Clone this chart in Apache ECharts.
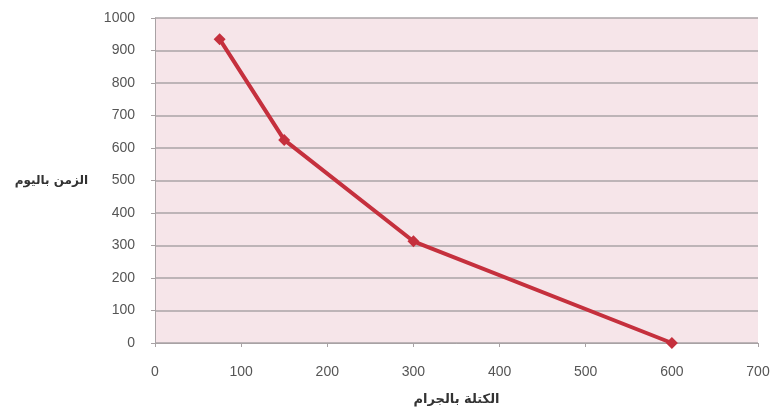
<!DOCTYPE html>
<html>
<head>
<meta charset="utf-8">
<script src="https://cdn.jsdelivr.net/npm/echarts@6/dist/echarts.min.js"></script>
<style>
  html, body { margin: 0; padding: 0; background: #ffffff; }
  #chart { width: 779px; height: 416px; }
</style>
</head>
<body>
<div id="chart"></div>
<script>
// Mass in grams (x) against time in days (y)
const massGrams = [75, 150, 300, 600];
const timeDays = [935, 625, 313, 0];
const xAxisTitle = 'الكتلة بالجرام';
const yAxisTitle = 'الزمن باليوم';

const points = massGrams.map((m, i) => [m, timeDays[i]]);

const chart = echarts.init(document.getElementById('chart'));
chart.setOption({
  animation: false,
  grid: {
    left: 155, right: 21, top: 18, bottom: 73,
    show: true,
    backgroundColor: '#f6e5e9',
    borderWidth: 0
  },
  xAxis: {
    type: 'value',
    min: 0, max: 700, interval: 100,
    name: xAxisTitle,
    nameLocation: 'middle',
    nameGap: 50,
    nameTextStyle: { fontFamily: 'DejaVu Sans', fontSize: 13, fontWeight: 'bold', color: '#333' },
    axisLine: { show: true, lineStyle: { color: '#a8a2a4', width: 1 } },
    axisTick: { show: true, length: 4, lineStyle: { color: '#a8a2a4' } },
    axisLabel: { color: '#555', fontFamily: 'Liberation Sans', fontSize: 14, margin: 22 },
    splitLine: { show: false }
  },
  yAxis: {
    type: 'value',
    min: 0, max: 1000, interval: 100,
    name: yAxisTitle,
    nameLocation: 'middle',
    nameRotate: 0,
    nameGap: 67,
    nameTextStyle: { fontFamily: 'DejaVu Sans', fontSize: 12, fontWeight: 'bold', color: '#333', padding: [12, 0, 0, 0] },
    axisLine: { show: true, lineStyle: { color: '#a8a2a4', width: 1 } },
    axisTick: { show: true, length: 4, lineStyle: { color: '#a8a2a4' } },
    axisLabel: {
      color: '#555', fontFamily: 'Liberation Sans', fontSize: 14, margin: 20,
      formatter: v => String(v)
    },
    splitLine: { show: true, lineStyle: { color: '#aaa3a6', width: 1.5 } }
  },
  series: [{
    type: 'line',
    data: points,
    symbol: 'diamond',
    symbolSize: 12,
    lineStyle: { color: '#c5303d', width: 4 },
    itemStyle: { color: '#c5303d' }
  }]
});
</script>
</body>
</html>
